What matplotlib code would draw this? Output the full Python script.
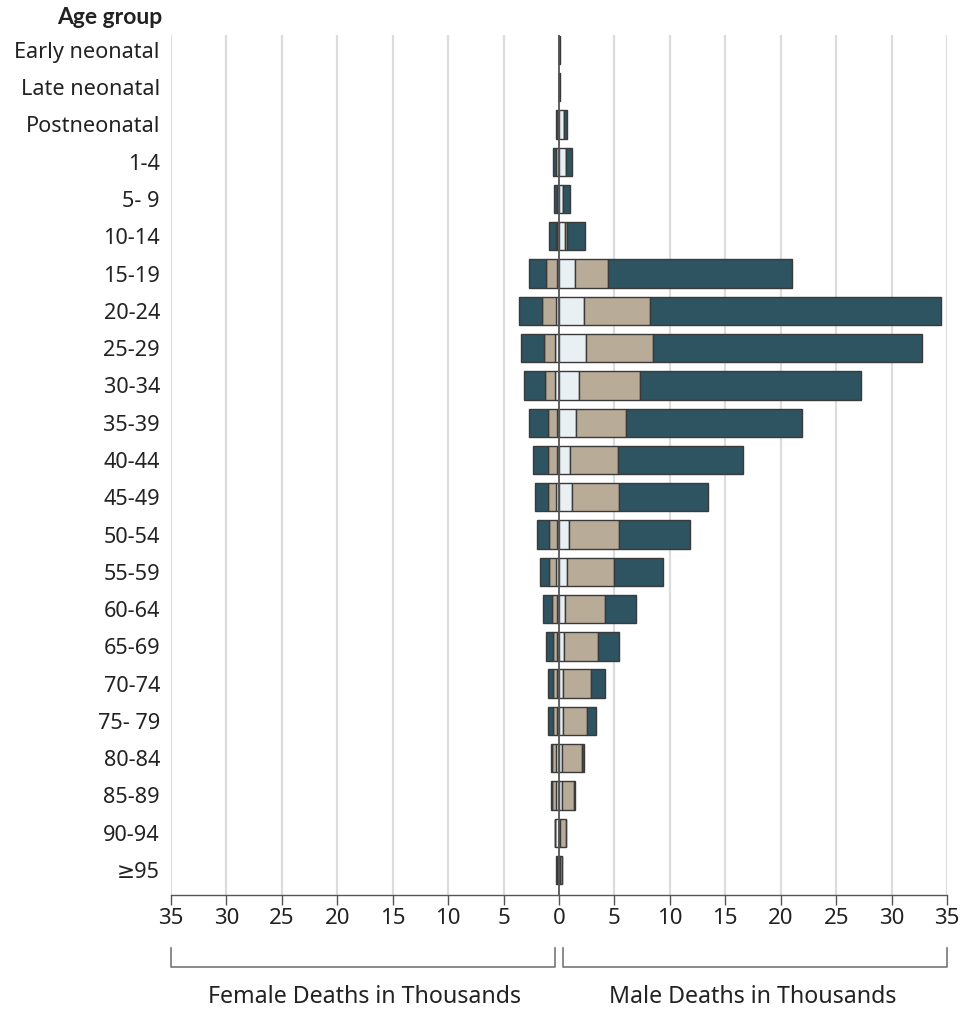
import matplotlib
matplotlib.use("Agg")
import matplotlib.pyplot as plt
import matplotlib.transforms as mtransforms
import numpy as np

age_groups = ["Early neonatal", "Late neonatal", "Postneonatal", "1-4", "5- 9", "10-14",
              "15-19", "20-24", "25-29", "30-34", "35-39", "40-44", "45-49", "50-54",
              "55-59", "60-64", "65-69", "70-74", "75- 79", "80-84", "85-89", "90-94", "≥95"]

# Female deaths (thousands), segments from zero outward
female_light = [0.0, 0.0, 0.05, 0.25, 0.2, 0.2, 0.15, 0.27, 0.36, 0.36, 0.2, 0.2, 0.27, 0.2,
                0.27, 0.2, 0.15, 0.2, 0.2, 0.27, 0.27, 0.35, 0.1]
female_tan = [0.0, 0.0, 0.0, 0.0, 0.0, 0.1, 1.0, 1.23, 1.0, 0.9, 0.78, 0.75, 0.72, 0.69,
              0.63, 0.45, 0.36, 0.36, 0.36, 0.4, 0.4, 0.02, 0.1]
female_dark = [0.02, 0.02, 0.2, 0.25, 0.25, 0.6, 1.6, 2.07, 2.1, 1.86, 1.74, 1.44, 1.17, 1.05,
               0.81, 0.75, 0.66, 0.45, 0.45, 0.03, 0.02, 0.0, 0.05]

# Male deaths (thousands), segments from zero outward
male_light = [0.0, 0.0, 0.45, 0.63, 0.4, 0.55, 1.44, 2.28, 2.46, 1.83, 1.5, 1.02, 1.2, 0.9,
              0.69, 0.54, 0.45, 0.33, 0.33, 0.25, 0.25, 0.05, 0.1]
male_tan = [0.0, 0.0, 0.0, 0.03, 0.0, 0.17, 3.0, 5.97, 6.02, 5.48, 4.53, 4.26, 4.2, 4.5,
            4.26, 3.6, 3.09, 2.55, 2.22, 1.85, 1.1, 0.55, 0.15]
male_dark = [0.12, 0.12, 0.3, 0.55, 0.55, 1.65, 16.6, 26.25, 24.22, 19.9, 15.9, 11.3, 8.0, 6.4,
             4.43, 2.85, 1.86, 1.26, 0.78, 0.2, 0.05, 0.0, 0.05]

tick_values = [-35, -30, -25, -20, -15, -10, -5, 0, 5, 10, 15, 20, 25, 30, 35]

c_light = "#e9f0f4"
c_tan = "#b8ac99"
c_dark = "#2e5361"
edge = "#3a3a3a"

plt.rcParams['font.family'] = ['Noto Sans', 'DejaVu Sans']
text_color = "#222222"

fig = plt.figure(figsize=(9.61, 10.10), dpi=100)
ax = fig.add_axes([171/961, 1 - 895/1010, (947 - 171)/961, (895 - 35)/1010])

y = np.arange(len(age_groups))
h = 0.76

fl = np.array(female_light); ft = np.array(female_tan); fd = np.array(female_dark)
ml = np.array(male_light); mt = np.array(male_tan); md = np.array(male_dark)

kw = dict(height=h, edgecolor=edge, linewidth=1.0, zorder=2)
# Female (negative side)
ax.barh(y, -fl, left=0, color=c_light, **kw)
ax.barh(y, -ft, left=-fl, color=c_tan, **kw)
ax.barh(y, -fd, left=-(fl + ft), color=c_dark, **kw)
# Male
ax.barh(y, ml, left=0, color=c_light, **kw)
ax.barh(y, mt, left=ml, color=c_tan, **kw)
ax.barh(y, md, left=ml + mt, color=c_dark, **kw)

ax.set_xlim(-35, 35)
ax.set_ylim(len(age_groups) - 1 + 0.67, -0.40)

# grid
for t in tick_values:
    if t != 0:
        ax.axvline(t, color="#dcdcdc", linewidth=1.6, zorder=0)
ax.axvline(0, color="#555555", linewidth=1.3, zorder=3)

ax.set_xticks(tick_values)
ax.set_xticklabels([str(abs(t)) for t in tick_values], fontsize=16, color=text_color)
ax.set_yticks(y)
ax.set_yticklabels(age_groups, fontsize=15.6, color=text_color)
ax.tick_params(axis='y', length=0, pad=8)
ax.tick_params(axis='x', length=7, width=1.0, color="#555555", pad=2)

for s in ["left", "right", "top"]:
    ax.spines[s].set_visible(False)
ax.spines["bottom"].set_color("#555555")
ax.spines["bottom"].set_linewidth(1.0)

fig.text(162/961, 1 - 17/1010, "Age group", ha="right", va="center",
         fontsize=16.5, fontweight="bold", color=text_color, family=['Lato', 'DejaVu Sans'])

# brackets
trans = mtransforms.blended_transform_factory(ax.transData, ax.transAxes)
y_top = (895 - 948) / 860
y_bot = (895 - 967) / 860
bc = "#777777"
ax.plot([-35, -35, -0.36, -0.36], [y_top, y_bot, y_bot, y_top], color=bc, lw=1.2,
        transform=trans, clip_on=False)
ax.plot([0.36, 0.36, 35, 35], [y_top, y_bot, y_bot, y_top], color=bc, lw=1.2,
        transform=trans, clip_on=False)
y_lab = (895 - 997) / 860
ax.text(-17.5, y_lab, "Female Deaths in Thousands", transform=trans, ha="center",
        va="center", fontsize=16.7, color=text_color)
ax.text(17.5, y_lab, "Male Deaths in Thousands", transform=trans, ha="center",
        va="center", fontsize=16.7, color=text_color)

fig.savefig("out.png", dpi=100)
